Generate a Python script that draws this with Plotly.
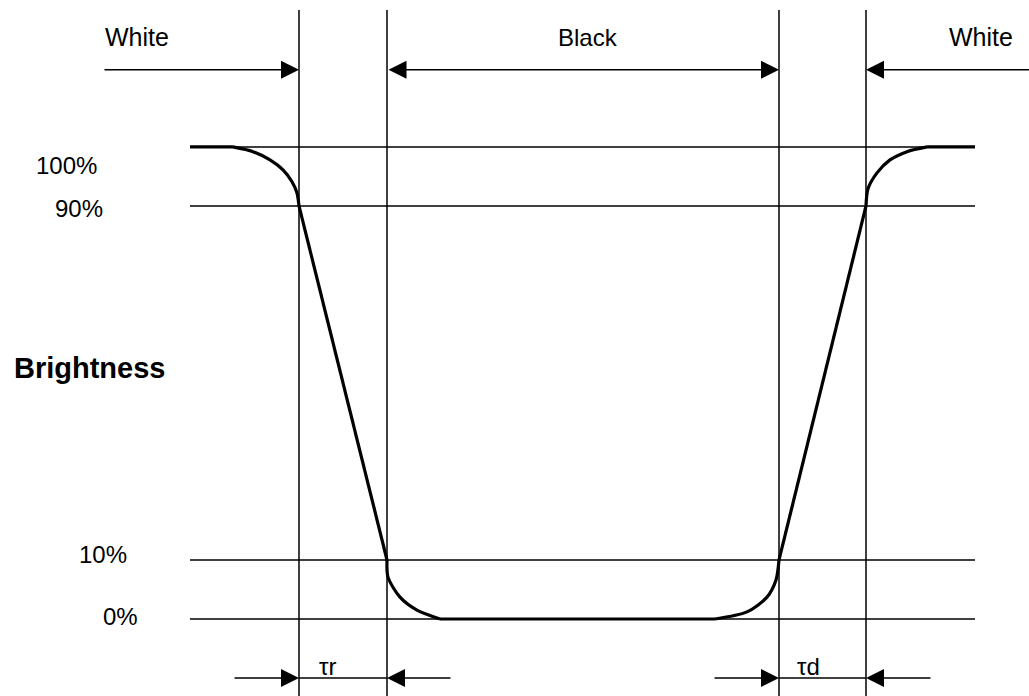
import plotly.graph_objects as go

# ---------------- data (schematic) ----------------
# brightness level labels and their schematic positions on the vertical scale
level_labels = ["0%", "10%", "90%", "100%"]
level_values = [0, 1, 7, 8]

# time markers (arbitrary time units): start of white->black, end of rise,
# start of black->white, end of decay
time_markers = [109, 197, 589, 676]
time_span = [0, 785]

# brightness response curve (time, schematic level)
curve_t = [0, 43, 63, 80, 93, 102, 107, 109,
           197, 198, 210, 227, 250,
           525, 557, 577, 586, 589,
           676, 678, 687, 700, 717, 737, 785]
curve_v = [8, 8, 7.92, 7.78, 7.61, 7.41, 7.22, 7.0,
           1.0, 0.71, 0.37, 0.15, 0,
           0, 0.12, 0.37, 0.66, 1.0,
           7.0, 7.29, 7.56, 7.78, 7.92, 8, 8]
# pieces of the curve: (start index, end index, rounded?)
curve_pieces = [(0, 1, False), (1, 7, True), (7, 8, False), (8, 12, True),
                (12, 13, False), (13, 17, True), (17, 18, False), (18, 23, True),
                (23, 24, False)]

phase_labels = ["White", "Black", "White"]
time_labels = ["\u03c4r", "\u03c4d"]

# ---------------- styling / layout constants ----------------
FONT = "Liberation Sans, Arial, sans-serif"
THIN = 1.5
THICK = 3.2
XR = [-190, 839]
YR = [-1.305, 10.49]
TOP_ARROW_Y = 9.31
BOT_ARROW_Y = -1.0
VLINE_TOP = 10.32

fig = go.Figure()

# horizontal level lines
for v in level_values:
    fig.add_trace(go.Scatter(x=time_span, y=[v, v], mode="lines",
                             line=dict(color="black", width=THIN),
                             hoverinfo="skip", showlegend=False))

# vertical time marker lines
for t in time_markers:
    fig.add_trace(go.Scatter(x=[t, t], y=[VLINE_TOP, YR[0] - 1], mode="lines",
                             line=dict(color="black", width=THIN),
                             hoverinfo="skip", showlegend=False))

# brightness curve
for i0, i1, rounded in curve_pieces:
    fig.add_trace(go.Scatter(x=curve_t[i0:i1 + 1], y=curve_v[i0:i1 + 1], mode="lines",
                             line=dict(color="black", width=THICK,
                                       shape="spline" if rounded else "linear",
                                       smoothing=0.8 if rounded else None),
                             hoverinfo="skip", showlegend=False))

# connecting lines between arrow pairs at bottom
for a, b in [(time_markers[0], time_markers[1]), (time_markers[2], time_markers[3])]:
    fig.add_trace(go.Scatter(x=[a, b], y=[BOT_ARROW_Y, BOT_ARROW_Y], mode="lines",
                             line=dict(color="black", width=THIN),
                             hoverinfo="skip", showlegend=False))

def arrow(tip_x, tail_x, y, both=False):
    kw = dict(x=tip_x, y=y, ax=tail_x, ay=y, xref="x", yref="y", axref="x", ayref="y",
              text="", showarrow=True, arrowhead=2, arrowsize=2.4, arrowwidth=THIN,
              arrowcolor="black", standoff=0, startstandoff=0)
    if both:
        kw.update(arrowside="end+start", startarrowhead=2, startarrowsize=2.4)
    fig.add_annotation(**kw)

# top arrows
arrow(time_markers[0], -87, TOP_ARROW_Y)
arrow(time_markers[2], time_markers[1], TOP_ARROW_Y, both=True)
arrow(time_markers[3], 845, TOP_ARROW_Y)
# bottom arrows
arrow(time_markers[0], 43, BOT_ARROW_Y)
arrow(time_markers[1], 262, BOT_ARROW_Y)
arrow(time_markers[2], 523, BOT_ARROW_Y)
arrow(time_markers[3], 742, BOT_ARROW_Y)

def label(text, x, y, size=24, bold=False, yshift=0):
    fig.add_annotation(x=x, y=y, xref="x", yref="y", text=f"<b>{text}</b>" if bold else text,
                       showarrow=False, yshift=yshift,
                       font=dict(family=FONT, size=size, color="black"))

# phase labels
label(phase_labels[0], -53.5, 9.86, size=25)
label(phase_labels[1], 398, 9.86)
label(phase_labels[2], 791, 9.86, size=25)

# level labels (staggered as in the drawing)
label_x = [-70, -87.5, -111, -123.5]
label_shift = [2, 5, -3, -19]
for txt, v, lx, ys in zip(level_labels, level_values, label_x, label_shift):
    label(txt, lx, v, yshift=ys)

label("Brightness", -101, 4.25, size=29, bold=True)

# time labels
label(time_labels[0], (time_markers[0] + time_markers[1]) / 2 - 16, BOT_ARROW_Y, size=24, yshift=12)
label(time_labels[1], (time_markers[2] + time_markers[3]) / 2 - 14, BOT_ARROW_Y, size=24, yshift=12)

fig.update_layout(
    width=1029, height=696,
    margin=dict(l=0, r=0, t=0, b=0),
    paper_bgcolor="white", plot_bgcolor="white",
    xaxis=dict(range=XR, visible=False, fixedrange=True),
    yaxis=dict(range=YR, visible=False, fixedrange=True),
    showlegend=False,
)

fig.write_html("out.html", config={"displayModeBar": False},
               post_script="document.body.style.margin='0px';")
